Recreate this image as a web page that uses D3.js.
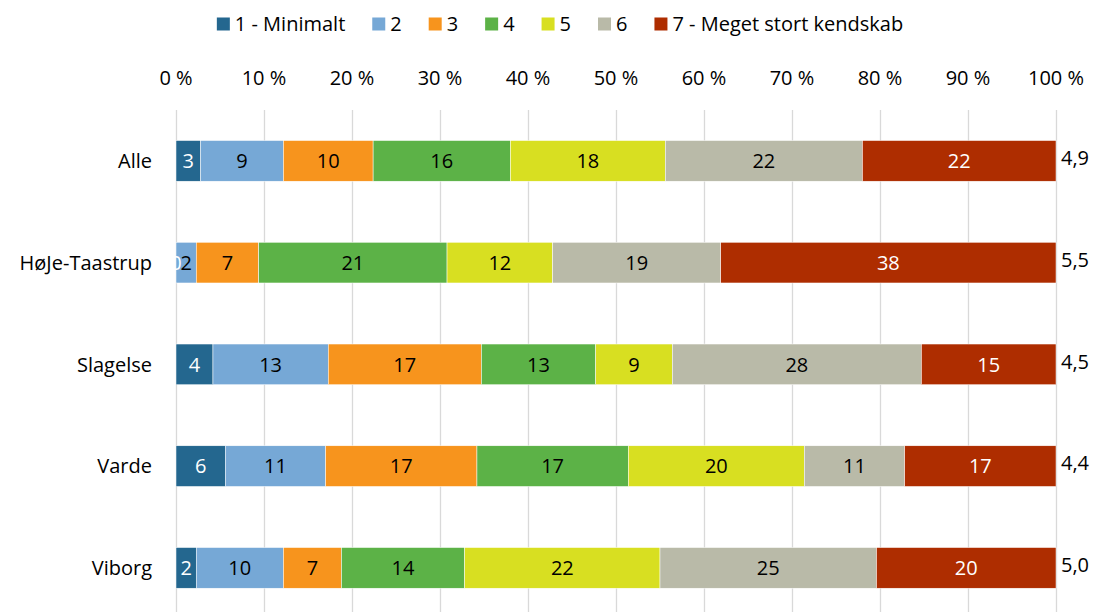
<!DOCTYPE html>
<html>
<head>
<meta charset="utf-8">
<script src="https://cdn.jsdelivr.net/npm/d3@7"></script>
<style>
body { margin:0; background:#fff; }
svg { font-family: "Open Sans", Lato, sans-serif; }
.grid line { stroke:#d9d9d9; stroke-width:1.3; }
.grid path { display:none; }
</style>
</head>
<body>
<svg id="chart" width="1097" height="612"></svg>
<script>
// --- data (percent) ---
var categories = ["Alle", "HøJe-Taastrup", "Slagelse", "Varde", "Viborg"]
var seriesNames = ["1 - Minimalt", "2", "3", "4", "5", "6", "7 - Meget stort kendskab"]
var s1 = [2.8, 0, 4.2, 5.6, 2.3]
var s2 = [9.4, 2.3, 13.1, 11.4, 9.9]
var s3 = [10.2, 7.1, 17.4, 17.2, 6.6]
var s4 = [15.6, 21.4, 13.0, 17.2, 14.0]
var s5 = [17.6, 12.0, 8.7, 20.0, 22.2]
var s6 = [22.4, 19.1, 28.3, 11.4, 24.6]
var s7 = [22.0, 38.1, 15.3, 17.2, 20.4]
var averages = [4.9, 5.5, 4.5, 4.4, 5.0]
var xTicks = [0, 10, 20, 30, 40, 50, 60, 70, 80, 90, 100]

var colors = ["#24678f", "#76a8d6", "#f7941d", "#5cb247", "#d8df21", "#b9baa8", "#ae2d00"]
var labelColors = ["#fff", "#000", "#000", "#000", "#000", "#000", "#fff"]
var fs = "20px"

var svg = d3.select("#chart")

var xScale = d3.scaleLinear()
    .domain([0, 100])
    .range([176, 1056])

var yScale = d3.scaleBand()
    .domain(categories)
    .range([110, 618.75])
    .paddingInner(0.6)
    .paddingOuter(0.3)

// gridlines
svg.append("g")
    .attr("class", "grid")
    .attr("transform", "translate(0,110)")
    .call(d3.axisTop(xScale)
        .tickValues(xTicks)
        .tickSize(-510)
        .tickFormat("")
    )

// top axis labels
svg.append("g")
    .selectAll("text")
    .data(xTicks)
    .enter().append("text")
    .attr("x", function(d) { return xScale(d) })
    .attr("y", 78)
    .attr("dy", "0.35em")
    .attr("text-anchor", "middle")
    .style("font-size", fs)
    .attr("fill", "#000")
    .text(function(d) { return d + " %" })

// stack the series
var rows = categories.map(function(c, i) {
    var r = { cat: c }
    ;[s1, s2, s3, s4, s5, s6, s7].forEach(function(s, k) { r["k" + k] = s[i] })
    return r
})
var keys = seriesNames.map(function(d, k) { return "k" + k })
var stacked = d3.stack().keys(keys)(rows)

var layers = svg.append("g")
    .selectAll("g")
    .data(stacked)
    .enter().append("g")
    .attr("fill", function(d, k) { return colors[k] })

layers.selectAll("rect")
    .data(function(d) { return d })
    .enter().append("rect")
    .attr("x", function(d) { return xScale(d[0]) })
    .attr("y", function(d) { return yScale(d.data.cat) })
    .attr("width", function(d) { return xScale(d[1]) - xScale(d[0]) })
    .attr("height", yScale.bandwidth())
    .attr("stroke", "#fff")
    .attr("stroke-width", 0.5)

// value labels
stacked.forEach(function(layer, k) {
    svg.append("g")
        .selectAll("text")
        .data(layer)
        .enter().append("text")
        .attr("x", function(d) { return xScale((d[0] + d[1]) / 2) })
        .attr("y", function(d) { return yScale(d.data.cat) + yScale.bandwidth() / 2 })
        .attr("dy", "0.36em")
        .attr("text-anchor", "middle")
        .style("font-size", fs)
        .attr("fill", labelColors[k])
        .text(function(d) { return Math.round(d[1] - d[0]) })
})

// category labels
svg.append("g")
    .selectAll("text")
    .data(categories)
    .enter().append("text")
    .attr("x", 152)
    .attr("y", function(d) { return yScale(d) + yScale.bandwidth() / 2 })
    .attr("dy", "0.36em")
    .attr("text-anchor", "end")
    .style("font-size", fs)
    .attr("fill", "#000")
    .text(function(d) { return d })

// averages on the right
svg.append("g")
    .selectAll("text")
    .data(averages)
    .enter().append("text")
    .attr("x", 1061)
    .attr("y", function(d, i) { return yScale(categories[i]) + yScale.bandwidth() / 2 - 3 })
    .attr("dy", "0.36em")
    .style("font-size", fs)
    .attr("fill", "#000")
    .text(function(d) { return d.toFixed(1).replace(".", ",") })

// legend
var legend = svg.append("g")
var lx = 0
var items = legend.selectAll("g")
    .data(seriesNames)
    .enter().append("g")
items.append("rect")
    .attr("y", -6.5)
    .attr("width", 13)
    .attr("height", 13)
    .attr("fill", function(d, k) { return colors[k] })
items.append("text")
    .attr("x", 18)
    .attr("dy", "0.36em")
    .style("font-size", fs)
    .attr("fill", "#000")
    .text(function(d) { return d })
items.each(function() {
    var g = d3.select(this)
    g.attr("transform", "translate(" + lx + ",0)")
    lx += 18 + g.select("text").node().getComputedTextLength() + 27
})
lx -= 27
legend.attr("transform", "translate(" + (560 - lx / 2) + ",24)")
</script>
</body>
</html>
